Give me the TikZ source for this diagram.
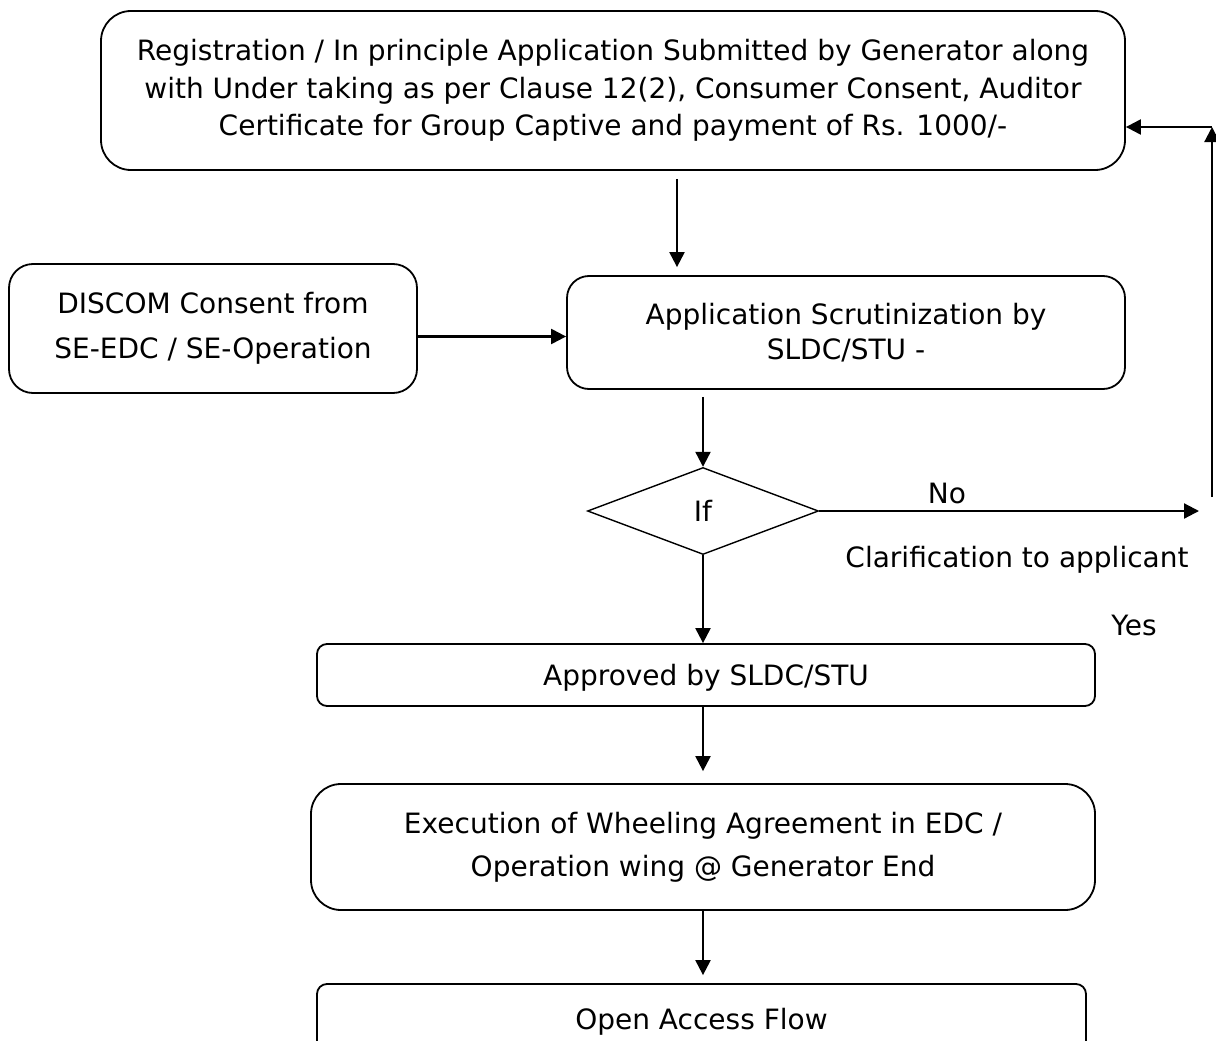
\documentclass[tikz,border=0pt]{standalone}
\usepackage{fontspec}
\setmainfont{DejaVu Sans}
\usetikzlibrary{shapes.geometric,arrows.meta}

\tikzset{
	box/.style={draw,line width=1.8pt,rounded corners=#1,align=center,inner sep=0pt},
	box/.default=25pt,
	arr/.style={-{Triangle[length=15pt,width=15pt]},line width=2.2pt},
}

\begin{document}
\begin{tikzpicture}[x=1pt,y=-1pt,font=\fontsize{28}{37.5}\selectfont]
	\useasboundingbox (0,0) rectangle (1216,1041);
	\node[box=30pt,minimum width=1024pt,minimum height=159pt] (reg) at (613,90.5) {Registration / In principle Application Submitted by Generator along\\with Under taking as per Clause 12(2), Consumer Consent, Auditor\\Certificate for Group Captive and payment of Rs. 1000/-};
	\node[box=24pt,minimum width=408pt,minimum height=129pt,font=\fontsize{28}{45}\selectfont] (discom) at (213,328.5) {DISCOM Consent from\\SE-EDC / SE-Operation};
	\node[box=22pt,minimum width=558pt,minimum height=113pt,font=\fontsize{28}{35}\selectfont] (scr) at (846,332.5) {Application Scrutinization by\\SLDC/STU -};
	\node[draw,diamond,line width=1.4pt,aspect=2.65,minimum width=231pt,minimum height=87pt,inner sep=0pt] (if) at (703,511) {If};
	\node[box=10pt,minimum width=778pt,minimum height=62pt,text depth=0pt] (appr) at (706,675) {Approved by SLDC/STU};
	\node[box=30pt,minimum width=784pt,minimum height=126pt,font=\fontsize{28}{43}\selectfont] (exec) at (703,847) {Execution of Wheeling Agreement in EDC /\\Operation wing @ Generator End};
	\node[box=10pt,minimum width=769pt,minimum height=70pt,text depth=0pt] (oa) at (701.5,1019) {Open Access Flow};
	\node[] (no) at (947,493) {No};
	\node[] (clar) at (1017,560) {Clarification to applicant};
	\node[] (yes) at (1134,625) {Yes};
	\coordinate (c1) at (677,0);
	\coordinate (noend) at (1199,511);
	\coordinate (back) at (1212,127);
	\draw[arr,shorten <=8pt,shorten >=8pt] (reg.south -| c1) -- (scr.north -| c1);
	\draw[arr] ([yshift=-8pt]discom.east) -- ([yshift=-8pt]discom.east -| scr.west);
	\draw[arr,shorten <=7pt] (scr.south -| if) -- (if.north);
	\draw[arr] (if.east) -- (noend);
	\draw[arr,shorten <=14pt] (noend -| back) -- (back);
	\draw[arr] (back) -- (back -| reg.east);
	\draw[arr] (if.south) -- (appr.north -| if);
	\draw[arr,shorten >=12pt] (appr.south -| if) -- (exec.north -| if);
	\draw[arr,shorten >=8pt] (exec.south -| if) -- (oa.north -| if);
\end{tikzpicture}
\end{document}
